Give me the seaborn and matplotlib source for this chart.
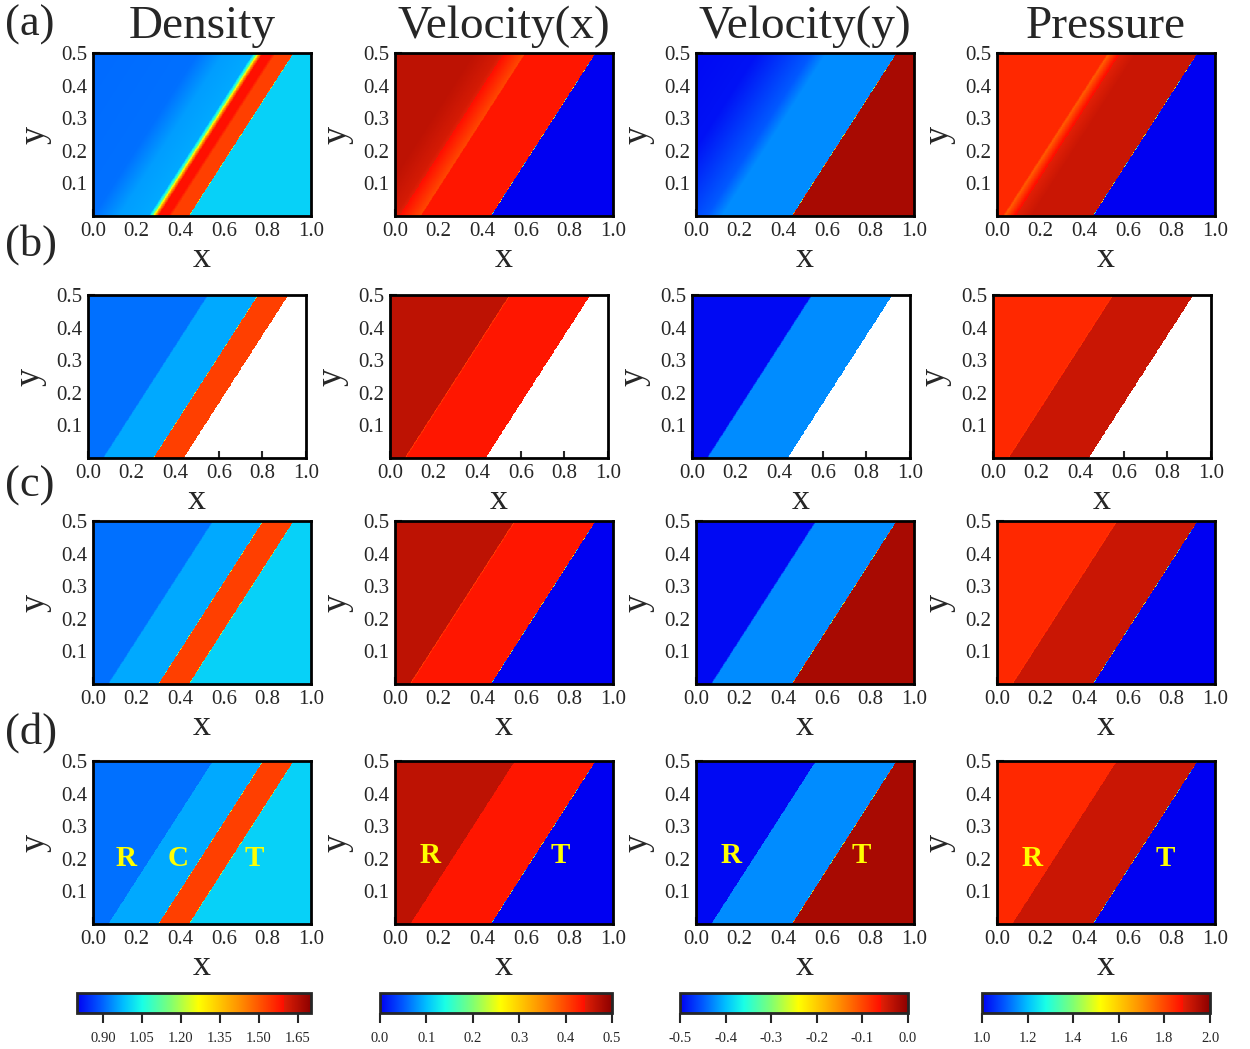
import numpy as np
import matplotlib
matplotlib.use("Agg")
import matplotlib.pyplot as plt
from matplotlib.colors import LinearSegmentedColormap, Normalize
from matplotlib.cm import ScalarMappable
import seaborn as sns

sns.set_style("white")
plt.rcParams['font.family'] = ['Liberation Serif', 'DejaVu Serif']

# ---- data: 1D profiles across the oblique waves, s = x - SLOPE*y (x-intercept at y=0)
SLOPE = 0.96
fields = ["Density", "Velocity(x)", "Velocity(y)", "Pressure"]
ranges = [(0.8, 1.7), (0.0, 0.5), (-0.5, 0.0), (1.0, 2.0)]
cb_ticks = [[0.90, 1.05, 1.20, 1.35, 1.50, 1.65],
            [0.0, 0.1, 0.2, 0.3, 0.4, 0.5],
            [-0.5, -0.4, -0.3, -0.2, -0.1, 0.0],
            [1.0, 1.2, 1.4, 1.6, 1.8, 2.0]]
cb_fmt = ["%.2f", "%.1f", "%.1f", "%.1f"]

# row (a): smeared numerical solution
a_rho_s = [-0.48, 0.0, 0.12, 0.255, 0.27, 0.285, 0.30, 0.345, 0.36, 0.439, 0.441, 1.0]
a_rho_v = [0.905, 0.91, 0.95, 0.96, 1.10, 1.40, 1.59, 1.59, 1.53, 1.53, 1.0, 1.0]
a_u_s = [-0.48, -0.12, 0.0, 0.115, 0.121, 0.439, 0.441, 1.0]
a_u_v = [0.466, 0.466, 0.45, 0.40, 0.435, 0.435, 0.0, 0.0]
a_v_s = [-0.48, -0.2, 0.05, 0.12, 0.439, 0.441, 1.0]
a_v_v = [-0.495, -0.49, -0.45, -0.425, -0.425, -0.02, -0.02]
a_p_s = [-0.48, 0.025, 0.035, 0.08, 0.16, 0.439, 0.441, 1.0]
a_p_v = [1.843, 1.843, 1.77, 1.88, 1.916, 1.916, 1.0, 1.0]

# rows (b), (c): thin transition at the rarefaction edge
bc_s = [-0.48, 0.066, 0.07, 0.074, 0.299, 0.301, 0.439, 0.441, 1.0]
b_rho = [0.91, 0.91, 0.935, 0.96, 0.96, 1.53, 1.53, np.nan, np.nan]
b_u = [0.466, 0.466, 0.40, 0.435, 0.435, 0.435, 0.435, np.nan, np.nan]
b_v = [-0.495, -0.495, -0.46, -0.425, -0.425, -0.425, -0.425, np.nan, np.nan]
b_p = [1.843, 1.843, 1.82, 1.916, 1.916, 1.916, 1.916, np.nan, np.nan]
c_rho = [0.91, 0.91, 0.935, 0.96, 0.96, 1.53, 1.53, 1.0, 1.0]
c_u = [0.466, 0.466, 0.40, 0.435, 0.435, 0.435, 0.435, 0.0, 0.0]
c_v = [-0.495, -0.495, -0.46, -0.425, -0.425, -0.425, -0.425, -0.02, -0.02]
c_p = [1.843, 1.843, 1.82, 1.916, 1.916, 1.916, 1.916, 1.0, 1.0]

# row (d): exact solution
d_s = [-0.48, 0.069, 0.071, 0.299, 0.301, 0.439, 0.441, 1.0]
d_rho = [0.91, 0.91, 0.96, 0.96, 1.53, 1.53, 1.0, 1.0]
d_u = [0.466, 0.466, 0.435, 0.435, 0.435, 0.435, 0.0, 0.0]
d_v = [-0.495, -0.495, -0.425, -0.425, -0.425, -0.425, -0.02, -0.02]
d_p = [1.843, 1.843, 1.916, 1.916, 1.916, 1.916, 1.0, 1.0]

profiles = [
    [(a_rho_s, a_rho_v), (a_u_s, a_u_v), (a_v_s, a_v_v), (a_p_s, a_p_v)],
    [(bc_s, b_rho), (bc_s, b_u), (bc_s, b_v), (bc_s, b_p)],
    [(bc_s, c_rho), (bc_s, c_u), (bc_s, c_v), (bc_s, c_p)],
    [(d_s, d_rho), (d_s, d_u), (d_s, d_v), (d_s, d_p)],
]
row_tags = ["(a)", "(b)", "(c)", "(d)"]

# region labels for the exact solution row
labels_d = [[("R", 0.15, 0.2), ("C", 0.39, 0.2), ("T", 0.74, 0.2)],
            [("R", 0.16, 0.21), ("T", 0.76, 0.21)],
            [("R", 0.16, 0.21), ("T", 0.76, 0.21)],
            [("R", 0.16, 0.2), ("T", 0.77, 0.2)]]

x_ticks = [0.0, 0.2, 0.4, 0.6, 0.8, 1.0]
y_ticks = [0.1, 0.2, 0.3, 0.4, 0.5]

# rainbow with a stepped top band
cmap = LinearSegmentedColormap.from_list("rb", [
    (0.0, (0.0, 0.0, 0.95)),
    (0.10, (0.0, 0.35, 1.0)),
    (0.20, (0.0, 0.75, 1.0)),
    (0.28, (0.1, 1.0, 0.9)),
    (0.40, (0.5, 1.0, 0.45)),
    (0.52, (1.0, 1.0, 0.0)),
    (0.70, (1.0, 0.55, 0.0)),
    (0.883, (1.0, 0.05, 0.0)),
    (0.883, (0.88, 0.12, 0.02)),
    (1.0, (0.55, 0.0, 0.0)),
], N=1024)

nx, ny = 500, 250
xs = (np.arange(nx) + 0.5) / nx
ys = (np.arange(ny) + 0.5) / ny * 0.5
X, Y = np.meshgrid(xs, ys)
S = X - SLOPE * Y

W, H = 1250, 1049
fig = plt.figure(figsize=(W / 100, H / 100), dpi=100)

col_left = [[93, 395, 696, 997], [88, 390, 692, 993],
            [93, 395, 696, 997], [93, 395, 696, 997]]
row_top = [53, 295, 521, 761]
aw, ah = 218, 163


def place(left, top, w, h):
    return [left / W, 1 - (top + h) / H, w / W, h / H]


for r in range(4):
    for c in range(4):
        ax = fig.add_axes(place(col_left[r][c], row_top[r], aw, ah))
        ks, kv = profiles[r][c]
        field = np.interp(S, ks, kv)
        vmin, vmax = ranges[c]
        sns.heatmap(field, ax=ax, cmap=cmap, vmin=vmin, vmax=vmax, cbar=False,
                    xticklabels=False, yticklabels=False, rasterized=True)
        ax.invert_yaxis()
        ax.set_xlim(0, nx)
        ax.set_ylim(0, ny)
        for sp in ax.spines.values():
            sp.set_visible(True)
            sp.set_linewidth(2)
            sp.set_color("black")
        ax.set_xticks([t * nx for t in x_ticks])
        ax.set_xticklabels(["%.1f" % t for t in x_ticks], fontsize=15)
        ax.set_yticks([t / 0.5 * ny for t in y_ticks])
        ax.set_yticklabels(["%.1f" % t for t in y_ticks], fontsize=15, rotation=0)
        ax.tick_params(direction="in", length=5, width=1.5, bottom=True, left=True,
                       top=False, right=False, pad=4)
        ax.set_xlabel("x", fontsize=26, labelpad=1)
        ax.set_ylabel("y", fontsize=26, labelpad=7)
        if r == 0:
            ax.set_title(fields[c], fontsize=34, pad=11)
        if r == 3:
            for txt, lx, ly in labels_d[c]:
                ax.text(lx * nx, ly / 0.5 * ny, txt, color="#ffff00", fontsize=21,
                        fontweight="bold", ha="center", va="center")

# row tags
for tag, yy in zip(row_tags, [25, 245, 486, 733]):
    fig.text(5 / W, 1 - yy / H, tag, fontsize=32, ha="left", va="center")

# colorbars
cb_left = [77, 380, 680, 982]
cb_w = [234, 232, 228, 228]
for c in range(4):
    cax = fig.add_axes(place(cb_left[c], 993, cb_w[c], 20))
    sm = ScalarMappable(norm=Normalize(*ranges[c]), cmap=cmap)
    cb = fig.colorbar(sm, cax=cax, orientation="horizontal")
    cb.set_ticks(cb_ticks[c])
    cb.set_ticklabels([cb_fmt[c] % t for t in cb_ticks[c]])
    cb.outline.set_linewidth(2)
    cax.tick_params(direction="out", length=7, width=1.5, labelsize=10.5, pad=7)

fig.savefig("out.png", dpi=100)
